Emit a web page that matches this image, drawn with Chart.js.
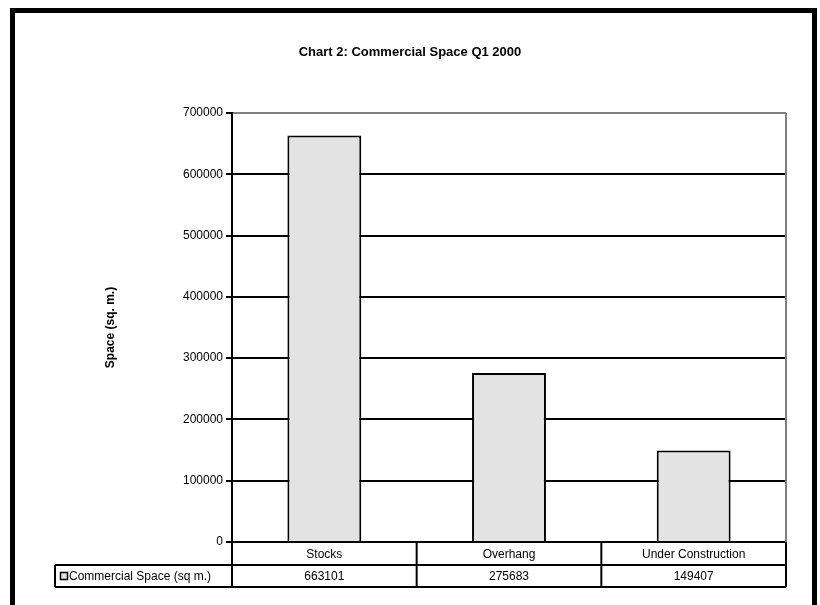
<!DOCTYPE html>
<html>
<head>
<meta charset="utf-8">
<script src="https://cdn.jsdelivr.net/npm/chart.js@4.4.1/dist/chart.umd.min.js"></script>
<style>
  body { margin: 0; background: #fff; }
  canvas { display: block; }
</style>
</head>
<body>
<canvas id="myChart" width="820" height="605"></canvas>
<script>
// chart data
const categories = ['Stocks', 'Overhang', 'Under Construction'];
const spaceValues = [663101, 275683, 149407];
const seriesName = 'Commercial Space (sq m.)';
const yTicks = [0, 100000, 200000, 300000, 400000, 500000, 600000, 700000];

const FONT = "'Liberation Sans', Arial, sans-serif";

// draws the outer frame, chart title, right edge and the data table under the bars
const tablePlugin = {
  id: 'dataTable',
  beforeDraw(chart) {
    const ctx = chart.ctx;
    ctx.save();
    ctx.fillStyle = '#fff';
    ctx.fillRect(0, 0, chart.width, chart.height);
    ctx.restore();
  },
  afterDraw(chart) {
    const ctx = chart.ctx;
    const area = chart.chartArea;
    const x = chart.scales.x;
    const catW = x.width / categories.length;
    const row1Top = area.bottom;
    const row1Bot = row1Top + 23;
    const row2Bot = row1Bot + 22;
    const legendLeft = 55;

    ctx.save();
    // outer frame
    ctx.strokeStyle = '#000';
    ctx.lineWidth = 5;
    ctx.strokeRect(12.5, 10.5, 802, 640);

    // title
    ctx.fillStyle = '#000';
    ctx.font = 'bold 13px ' + FONT;
    ctx.textAlign = 'center';
    ctx.textBaseline = 'middle';
    ctx.fillText('Chart 2: Commercial Space Q1 2000', 410, 52);

    // grey right edge of plot area
    ctx.strokeStyle = '#808080';
    ctx.lineWidth = 2;
    ctx.beginPath();
    ctx.moveTo(area.right, area.top);
    ctx.lineTo(area.right, area.bottom);
    ctx.stroke();

    // table lines
    ctx.strokeStyle = '#000';
    ctx.lineWidth = 2;
    ctx.beginPath();
    ctx.moveTo(legendLeft, row1Bot); ctx.lineTo(area.right, row1Bot);
    ctx.moveTo(legendLeft, row2Bot); ctx.lineTo(area.right, row2Bot);
    ctx.moveTo(legendLeft, row1Bot); ctx.lineTo(legendLeft, row2Bot);
    for (let i = 0; i <= categories.length; i++) {
      const bx = area.left + i * catW;
      ctx.moveTo(bx, row1Top); ctx.lineTo(bx, row2Bot);
    }
    ctx.stroke();

    // table text
    ctx.font = '12px ' + FONT;
    ctx.textAlign = 'center';
    for (let i = 0; i < categories.length; i++) {
      const cx = x.getPixelForValue(i);
      ctx.fillText(categories[i], cx, (row1Top + row1Bot) / 2 + 1);
      ctx.fillText(String(spaceValues[i]), cx, (row1Bot + row2Bot) / 2 + 1);
    }

    // legend key + series name
    ctx.lineWidth = 1.5;
    ctx.fillStyle = '#e3e3e3';
    ctx.fillRect(60.5, 572.5, 7, 7);
    ctx.strokeRect(60.5, 572.5, 7, 7);
    ctx.fillStyle = '#000';
    ctx.textAlign = 'left';
    ctx.fillText(seriesName, 69, (row1Bot + row2Bot) / 2 + 1);
    ctx.restore();
  }
};

const config = {
  type: 'bar',
  data: {
    labels: categories,
    datasets: [{
      label: seriesName,
      data: spaceValues,
      backgroundColor: '#e3e3e3',
      borderColor: '#000',
      borderWidth: 2,
      categoryPercentage: 1,
      barPercentage: 0.4
    }]
  },
  options: {
    responsive: false,
    animation: false,
    layout: { padding: { left: 0, top: 113, right: 34, bottom: 63 } },
    plugins: {
      legend: { display: false },
      title: { display: false },
      tooltip: { enabled: false }
    },
    scales: {
      x: { display: false },
      y: {
        min: 0,
        max: 700000,
        afterBuildTicks: s => { s.ticks = yTicks.map(v => ({ value: v })); },
        afterFit: s => { s.width = 232; },
        ticks: {
          color: '#000',
          padding: 3,
          font: { family: FONT, size: 12 },
          callback: v => String(v)
        },
        grid: {
          color: ctx => (ctx.tick && ctx.tick.value === 700000) ? '#808080' : '#000',
          lineWidth: 2,
          tickLength: 6,
          tickColor: '#000',
          tickWidth: 2
        },
        border: { color: '#000', width: 2 },
        title: {
          display: true,
          text: 'Space (sq. m.)',
          color: '#000',
          font: { family: FONT, size: 12, weight: 'bold' },
          padding: { top: 103, bottom: 0 }
        }
      }
    }
  },
  plugins: [tablePlugin]
};

const myChart = new Chart(document.getElementById('myChart'), config);
</script>
</body>
</html>
